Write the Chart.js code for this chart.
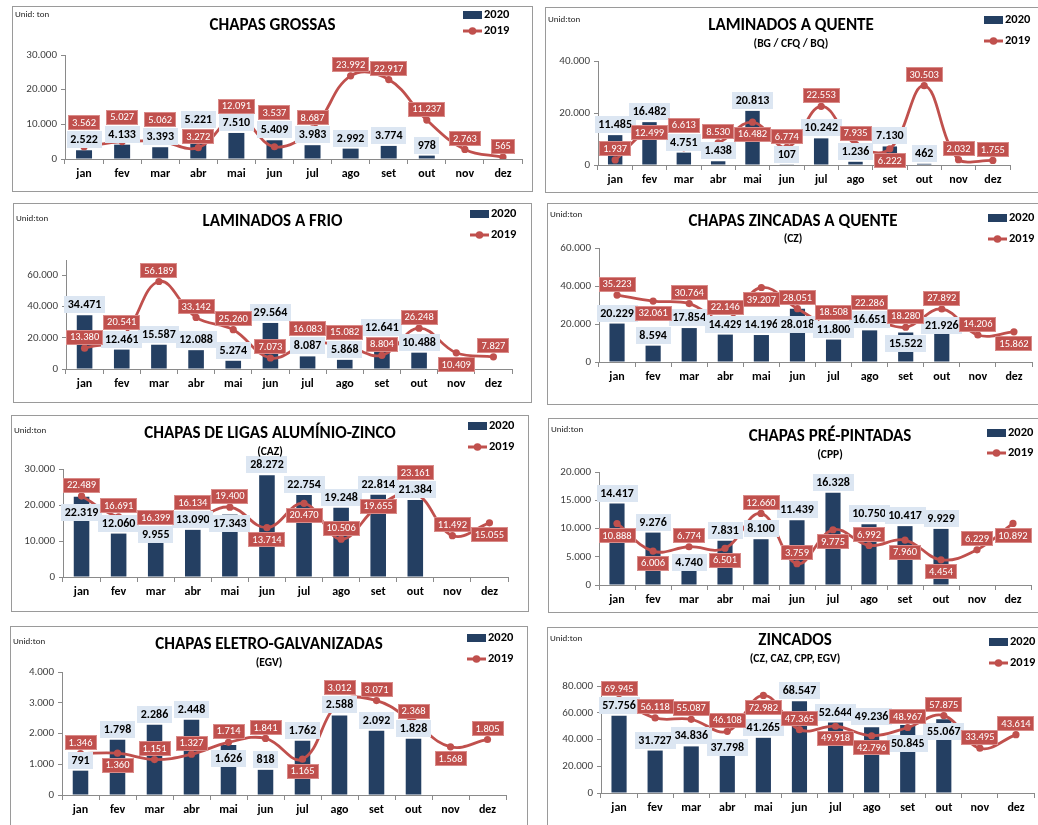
<!DOCTYPE html>
<html><head><meta charset="utf-8">
<script src="https://cdn.jsdelivr.net/npm/chart.js@4/dist/chart.umd.min.js"></script>
<style>
html,body{margin:0;padding:0;background:#fff;width:1038px;height:825px;overflow:hidden;position:relative;}
canvas{position:absolute;display:block;outline:1px solid #9a9a9a;outline-offset:-1px;}
</style></head><body>
<script>
// ---------- data ----------
const months = ['jan','fev','mar','abr','mai','jun','jul','ago','set','out','nov','dez'];

const chapasGrossas2020 = [2522, 4133, 3393, 5221, 7510, 5409, 3983, 2992, 3774, 978, null, null];
const chapasGrossas2019 = [3562, 5027, 5062, 3272, 12091, 3537, 8687, 23992, 22917, 11237, 2763, 565];

const laminadosQuente2020 = [11485, 16482, 4751, 1438, 20813, 107, 10242, 1236, 7130, 462, null, null];
const laminadosQuente2019 = [1937, 12499, 6613, 8530, 16482, 6774, 22553, 7935, 6222, 30503, 2032, 1755];

const laminadosFrio2020 = [34471, 12461, 15587, 12088, 5274, 29564, 8087, 5868, 12641, 10488, null, null];
const laminadosFrio2019 = [13380, 20541, 56189, 33142, 25260, 7073, 16083, 15082, 8804, 26248, 10409, 7827];

const zincadasQuente2020 = [20229, 8594, 17854, 14429, 14196, 28018, 11800, 16651, 15522, 21926, null, null];
const zincadasQuente2019 = [35223, 32061, 30764, 22146, 39207, 28051, 18508, 22286, 18280, 27892, 14206, 15862];

const aluminioZinco2020 = [22319, 12060, 9955, 13090, 17343, 28272, 22754, 19248, 22814, 21384, null, null];
const aluminioZinco2019 = [22489, 16691, 16399, 16134, 19400, 13714, 20470, 10506, 19655, 23161, 11492, 15055];

const prePintadas2020 = [14417, 9276, 4740, 7831, 8100, 11439, 16328, 10750, 10417, 9929, null, null];
const prePintadas2019 = [10888, 6006, 6774, 6501, 12660, 3759, 9775, 6992, 7960, 4454, 6229, 10892];

const eletroGalv2020 = [791, 1798, 2286, 2448, 1626, 818, 1762, 2588, 2092, 1828, null, null];
const eletroGalv2019 = [1346, 1360, 1151, 1327, 1714, 1841, 1165, 3012, 3071, 2368, 1568, 1805];

const zincados2020 = [57756, 31727, 34836, 37798, 41265, 68547, 52644, 49236, 50845, 55067, null, null];
const zincados2019 = [69945, 56118, 55087, 46108, 72982, 47365, 49918, 42796, 48967, 57875, 33495, 43614];

// label placement codes for the 2019 labels (a: above, b: below, c: centred, A/d: above with 2020 label moved)
const posGrossas   = 'aaaAaaaaaaaa'.split('');
const posLamQuente = 'acaabaaabaaa'.split('');
const posLamFrio   = 'aaaaaaaaAaba'.split('');
const posZincQ     = 'abaabdaaddab'.split('');
const posAluZn     = 'dacadbbacaab'.split('');
const posPrePint   = 'bbdbaababbab'.split('');
const posEletro    = 'abaadabaaaba'.split('');
const posZincados  = 'aaadbabbddaa'.split('');

// ---------- style / layout ----------
const NAVY = '#243F62', RED = '#C0504D', AX = '#8a8a8a';
const FONT = 'Carlito, Lato, "Liberation Sans", sans-serif';
const YW = 42, XH = 26;

const panels = [
 {title:'CHAPAS GROSSAS', sub:null, unit:'Unid: ton', d20:chapasGrossas2020, d19:chapasGrossas2019, pos:posGrossas, max:30000, step:10000,
  box:[12,6,521,186], plot:[65,522,55,159], titleY:26, subY:null, unitY:15, leg:[463,15,31]},
 {title:'LAMINADOS A QUENTE', sub:'(BG / CFQ / BQ)', unit:'Unid:ton', d20:laminadosQuente2020, d19:laminadosQuente2019, pos:posLamQuente, max:40000, step:20000,
  box:[545,7,494,186], plot:[598,1010,61,165], titleY:26, subY:44, unitY:20, leg:[984,20,41], titleX:791},
 {title:'LAMINADOS A FRIO', sub:null, unit:'Unid:ton', d20:laminadosFrio2020, d19:laminadosFrio2019, pos:posLamFrio, max:70000, step:20000,
  box:[13,203,519,200], plot:[66,512,260,369], titleY:222, subY:null, unitY:219, leg:[470,214,235]},
 {title:'CHAPAS ZINCADAS A QUENTE', sub:'(CZ)', unit:'Unid:ton', d20:zincadasQuente2020, d19:zincadasQuente2019, pos:posZincQ, max:60000, step:20000,
  box:[547,203,492,202], plot:[599,1032,248,362], titleY:222, subY:239, unitY:215, leg:[988,218,239], titleX:793},
 {title:'CHAPAS DE LIGAS ALUMÍNIO-ZINCO', sub:'(CAZ)', unit:'Unid:ton', d20:aluminioZinco2020, d19:aluminioZinco2019, pos:posAluZn, max:30000, step:10000,
  box:[11,415,518,197], plot:[63,508,469,577], titleY:434, subY:452, unitY:431, leg:[468,426,447]},
 {title:'CHAPAS PRÉ-PINTADAS', sub:'(CPP)', unit:'Unid:ton', d20:prePintadas2020, d19:prePintadas2019, pos:posPrePint, max:20000, step:5000,
  box:[548,418,491,195], plot:[599,1031,472,585], titleY:437, subY:455, unitY:430, leg:[987,433,453], titleX:830},
 {title:'CHAPAS ELETRO-GALVANIZADAS', sub:'(EGV)', unit:'Unid:ton', d20:eletroGalv2020, d19:eletroGalv2019, pos:posEletro, max:4000, step:1000,
  box:[10,626,518,210], plot:[62,506,672,795], titleY:645, subY:663, unitY:642, leg:[467,638,659]},
 {title:'ZINCADOS', sub:'(CZ, CAZ, CPP, EGV)', unit:'Unid:ton', d20:zincados2020, d19:zincados2019, pos:posZincados, max:80000, step:20000,
  box:[547,627,492,210], plot:[601,1034,686,793], titleY:641, subY:659, unitY:639, leg:[989,642,663], titleX:795}
];

function fmt(v){ return String(Math.round(v)).replace(/\B(?=(\d{3})+(?!\d))/g,'.'); }

function labelBox(ctx, cx, cy, text, font, bg, fg, padX, h, stroke){
  ctx.font = font;
  const w = Math.round(ctx.measureText(text).width + 2*padX);
  const x = Math.round(cx - w/2), y = Math.round(cy - h/2);
  ctx.fillStyle = bg; ctx.fillRect(x, y, w, h);
  if (stroke){ ctx.strokeStyle = stroke; ctx.lineWidth = 1; ctx.strokeRect(x+0.5, y+0.5, w-1, h-1); }
  ctx.fillStyle = fg; ctx.textAlign = 'center'; ctx.textBaseline = 'middle';
  ctx.fillText(text, cx, cy + 0.5);
}

const decor = {
  id: 'panelDecor',
  afterDatasetsDraw(chart){
    const P = chart.canvas._panel; const ctx = chart.ctx;
    const lineMeta = chart.getDatasetMeta(0), barMeta = chart.getDatasetMeta(1);
    ctx.save();
    const items = [];
    for (let i = 0; i < months.length; i++){
      const pt = lineMeta.data[i];
      const hasBar = P.d20[i] != null;
      const bar = barMeta.data[i];
      let bc = hasBar ? bar.y - 10.5 : null;
      const p = pt.y; let lc;
      const ov = (a,b) => a != null && b != null && Math.abs(a-b) < 16;
      switch (P.pos[i]){
        case 'A': lc = p - 11; if (ov(lc,bc)) bc = lc - 17; break;
        case 'b': lc = p + 12; if (ov(lc,bc)) lc = bc + 17; break;
        case 'c': lc = p; if (ov(lc,bc)) bc = lc + 17; break;
        case 'd': lc = p - 11; if (hasBar) bc = p + 16; break;
        default:  lc = p - 11; if (ov(lc,bc)) lc = bc - 17;
      }
      items.push({x: pt.x, bc, lc, i, hasBar});
    }
    items.forEach(it => { if (it.hasBar) labelBox(ctx, it.x, it.bc, fmt(P.d20[it.i]), 'bold 12px ' + FONT, '#DCE6F2', '#000', 3.5, 17); });
    items.forEach(it => { labelBox(ctx, it.x, it.lc, fmt(P.d19[it.i]), '10.5px ' + FONT, RED, '#fff', 4, 15, '#D98B89'); });
    ctx.restore();
  },
  afterDraw(chart){
    const P = chart.canvas._panel; const ctx = chart.ctx;
    const [bx, by, bw] = P.box;
    ctx.save();
    ctx.fillStyle = '#000'; ctx.textBaseline = 'middle';
    const tx = (P.titleX != null ? P.titleX : bx + bw/2) - bx;
    ctx.textAlign = 'center';
    ctx.font = 'bold 17px ' + FONT;
    ctx.fillText(P.title, tx, P.titleY - by);
    if (P.sub){ ctx.font = 'bold 11.5px ' + FONT; ctx.fillText(P.sub, tx, P.subY - by); }
    ctx.textAlign = 'left';
    ctx.font = '9px ' + FONT; ctx.fillStyle = '#222';
    ctx.fillText(P.unit, 3, P.unitY - by);
    // legend
    const [lx, y1, y2] = P.leg; const x0 = lx - bx;
    ctx.fillStyle = NAVY; ctx.fillRect(x0, y1 - by - 4, 19, 8);
    ctx.strokeStyle = RED; ctx.lineWidth = 3;
    ctx.beginPath(); ctx.moveTo(x0, y2 - by); ctx.lineTo(x0 + 19, y2 - by); ctx.stroke();
    ctx.fillStyle = RED; ctx.beginPath(); ctx.arc(x0 + 9.5, y2 - by, 3.8, 0, Math.PI*2); ctx.fill();
    ctx.fillStyle = '#000'; ctx.font = 'bold 12.5px ' + FONT;
    ctx.fillText('2020', x0 + 21, y1 - by);
    ctx.fillText('2019', x0 + 21, y2 - by);
    ctx.restore();
  }
};

panels.forEach(P => {
  const [bx, by, bw, bh] = P.box; const [pl, pr, pt, pz] = P.plot;
  const c = document.createElement('canvas');
  c.width = bw; c.height = bh;
  c.style.left = bx + 'px'; c.style.top = by + 'px';
  c.style.width = bw + 'px'; c.style.height = bh + 'px';
  c._panel = P;
  document.body.appendChild(c);
  const tickValues = [];
  for (let v = 0; v <= P.max; v += P.step) tickValues.push(v);
  new Chart(c, {
    data: { labels: months, datasets: [
      { type:'line', label:'2019', data:P.d19, order:0, borderColor:RED, backgroundColor:RED, borderWidth:2.8,
        tension:0.4, pointRadius:3.6, pointBackgroundColor:RED, pointBorderColor:RED, pointBorderWidth:0, fill:false },
      { type:'bar', label:'2020', data:P.d20, order:1, backgroundColor:NAVY, barPercentage:0.42, categoryPercentage:1 }
    ]},
    options: {
      responsive:false, animation:false, events:[], devicePixelRatio:1,
      layout:{ padding:{ left:pl - bx - YW, right:bx + bw - pr, top:pt - by, bottom:by + bh - pz - XH } },
      plugins:{ legend:{display:false}, tooltip:{enabled:false}, title:{display:false} },
      scales:{
        x:{ type:'category', offset:true,
            grid:{ display:true, drawOnChartArea:false, drawTicks:true, tickLength:5, color:AX, offset:true },
            border:{ display:true, color:AX, width:1 },
            ticks:{ font:{family:FONT, size:12, weight:'bold'}, color:'#000', padding:3, maxRotation:0, autoSkip:false },
            afterFit: s => { s.height = XH; } },
        y:{ min:0, max:P.max,
            ticks:{ stepSize:P.step, font:{family:FONT, size:11}, color:'#404040', padding:4, autoSkip:false, callback: v => fmt(v) },
            grid:{ display:true, drawOnChartArea:false, drawTicks:true, tickLength:4, color:AX },
            border:{ display:true, color:AX, width:1 },
            afterFit: s => { s.width = YW; },
            afterBuildTicks: s => { s.ticks = tickValues.map(v => ({ value: v })); } }
      }
    },
    plugins:[decor]
  });
});
</script>
</body></html>
